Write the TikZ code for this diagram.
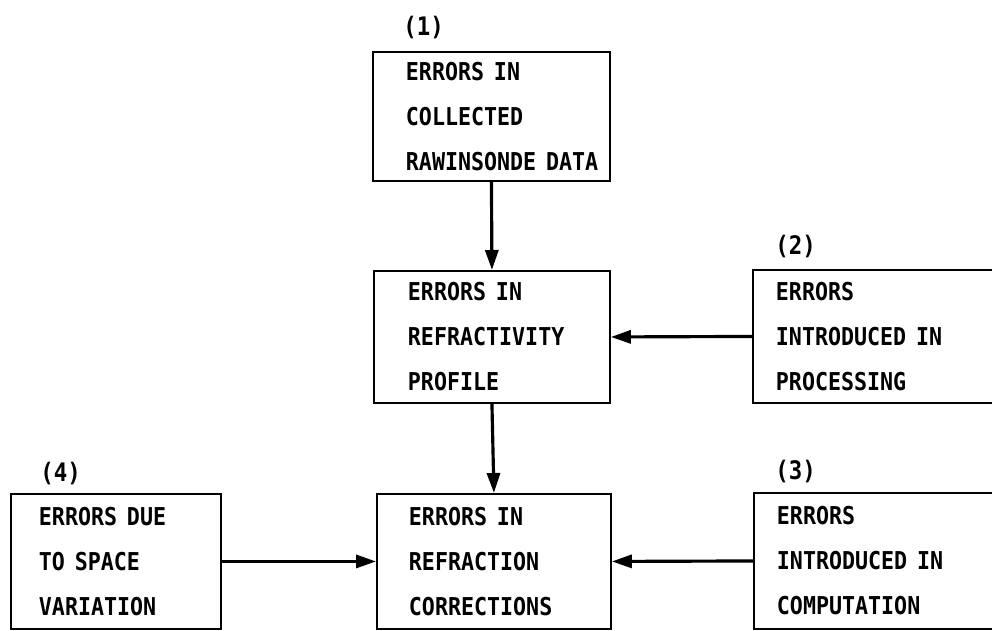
\documentclass[tikz,border=0pt]{standalone}
\usepackage{fontspec}
\usepackage{tikz}
\usetikzlibrary{arrows.meta}
\newfontfamily\boxfont{DejaVu Sans Mono}[FakeStretch=0.88]
\newcommand\errfont{\boxfont\bfseries\fontsize{14}{25.6}\selectfont}
\newcommand\wsp{\kern0.4em}

\begin{document}
\begin{tikzpicture}[x=0.02cm, y=-0.02cm,
	errbox/.style={draw, line width=1.1pt, rectangle, anchor=north west, align=left, font=\errfont},
	tag/.style={anchor=base west, inner sep=0pt, font=\boxfont\bfseries\fontsize{14.5}{16}\selectfont},
	flow/.style={line width=1.8pt, -{Triangle[length=0.40cm, width=0.26cm]}}]
				\useasboundingbox (0,0) rectangle (992,631);
				\clip (0,0) rectangle (992,631);
				\node[errbox, inner xsep=0.66cm, text width=3.42cm, minimum height=2.58cm] (collected)at(372, 51) {ERRORS\wsp IN\\COLLECTED\\RAWINSONDE\wsp DATA};
				\node[errbox, inner xsep=0.68cm, text width=3.36cm, minimum height=2.64cm] (refractivity)at(373, 270) {ERRORS\wsp IN\\REFRACTIVITY\\PROFILE};
				\node[errbox, inner xsep=0.46cm, text width=4.24cm, minimum height=2.66cm] (processing)at(752, 269) {ERRORS\\INTRODUCED\wsp IN\\PROCESSING};
				\node[errbox, inner xsep=0.56cm, text width=3.08cm, minimum height=2.70cm] (space)at(10, 493) {ERRORS\wsp DUE\\TO\wsp SPACE\\VARIATION};
				\node[errbox, inner xsep=0.64cm, text width=3.40cm, minimum height=2.70cm] (corrections)at(376, 493) {ERRORS\wsp IN\\REFRACTION\\CORRECTIONS};
				\node[errbox, inner xsep=0.46cm, text width=4.24cm, minimum height=2.72cm] (computation)at(753, 492) {ERRORS\\INTRODUCED\wsp IN\\COMPUTATION};
				\node[tag] (tag1)at(403, 36) {(1)};
				\node[tag] (tag2)at(775, 255) {(2)};
				\node[tag] (tag3)at(775, 480) {(3)};
				\node[tag] (tag4)at(40, 482) {(4)};
				\draw[flow] (collected.south) -- (refractivity.north);
				\draw[flow] (processing.west) -- (refractivity.east);
				\draw[flow] (refractivity.south) -- (corrections.north);
				\draw[flow] (space.east) -- (corrections.west);
				\draw[flow] (computation.west) -- (corrections.east);
			\end{tikzpicture}
\end{document}
